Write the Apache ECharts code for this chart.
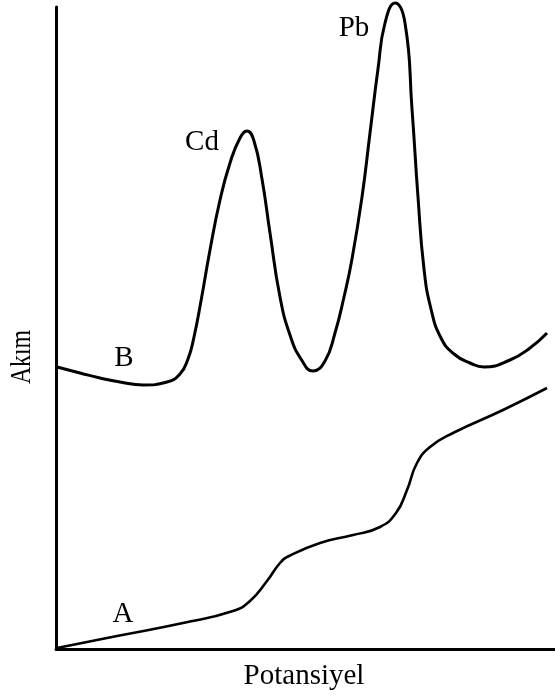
<!DOCTYPE html>
<html>
<head>
<meta charset="utf-8">
<script src="https://cdn.jsdelivr.net/npm/echarts@6/dist/echarts.min.js"></script>
<style>html,body{margin:0;padding:0;background:#fff;}#c{width:555px;height:696px;}</style>
</head>
<body>
<div id="c"></div>
<script>
// Potential (x) and current (y) readings, arbitrary units
const curveB = [
  [1,282],[24,276],[44,271],[64,267],[87,264],[111,267],[124,275],[132,290],
  [138,312],[145,348],[154,399],[164,449],[174,486],[184,511],[191,518],[198,508],
  [206,470],[214,416],[224,352],[234,314],[245,290],[257,278],[269,288],[279,316],
  [288,352],[296,390],[306,452],[314,516],[322,580],[329,626],[339,646],[349,626],
  [356,540],[362,452],[368,380],[375,340],[385,311],[398,295],[414,286],[428,282],
  [454,289],[474,301],[491,316]
];
const curveA = [
  [1,1],[61,13],[127,26],[177,38],[194,48],[211,68],[224,86],[233,93],[264,106],
  [297,114],[324,122],[340,136],[351,159],[361,186],[374,202],[397,216],[447,239],[491,261]
];
const curveLabels = [
  {name:'Cd', value:[146,507]},
  {name:'Pb', value:[298,621]},
  {name:'B',  value:[68,291]},
  {name:'A',  value:[67,35]}
];
const xTitle = 'Potansiyel';
const yTitle = 'Akım';

const FONT = '"Liberation Serif", "Times New Roman", serif';
const chart = echarts.init(document.getElementById('c'), null, {renderer:'canvas'});
chart.setOption({
  animation:false,
  backgroundColor:'#fff',
  grid:{left:56, right:0, top:7, bottom:47},
  xAxis:{type:'value', min:0, max:499,
    axisLine:{show:true, onZero:false, lineStyle:{color:'#000', width:3}},
    axisTick:{show:false}, axisLabel:{show:false}, splitLine:{show:false}},
  yAxis:{type:'value', min:0, max:642,
    axisLine:{show:true, onZero:false, lineStyle:{color:'#000', width:3}},
    axisTick:{show:false}, axisLabel:{show:false}, splitLine:{show:false}},
  series:[
    {type:'line', data:curveB, smooth:0.5, smoothMonotone:'none', symbol:'none', clip:false,
      lineStyle:{color:'#000', width:3}},
    {type:'line', data:curveA, smooth:0.5, smoothMonotone:'none', symbol:'none', clip:false,
      lineStyle:{color:'#000', width:2.6}},
    {type:'scatter', data:curveLabels, symbolSize:0, clip:false,
      itemStyle:{opacity:1},
      label:{show:true, position:'inside', formatter:p=>p.name,
        fontFamily:FONT, fontSize:29, color:'#000'}}
  ],
  graphic:[
    {type:'text', x:304, y:676, style:{text:xTitle, font:'29px '+FONT, fill:'#000',
      textAlign:'center', textVerticalAlign:'middle'}},
    {type:'text', x:22, y:357, rotation:Math.PI/2, scaleX:0.82,
      style:{text:yTitle, font:'29px '+FONT, fill:'#000',
      textAlign:'center', textVerticalAlign:'middle'}}
  ]
});
</script>
</body>
</html>
